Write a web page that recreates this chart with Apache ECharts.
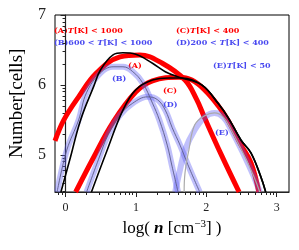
<!DOCTYPE html>
<html><head><meta charset="utf-8">
<script src="https://cdn.jsdelivr.net/npm/echarts@6/dist/echarts.min.js"></script>
<style>html,body{margin:0;padding:0;background:#fff}#c{width:299px;height:250px}</style>
</head><body><div id="c"></div>
<script>
// x = log(n [cm^-3]), y = log(Number[cells])
var fitA = [[-0.15,5.20],[-0.024,5.50],[0.186,5.83],[0.438,6.17],[0.773,6.40],[1.053,6.43],[1.375,6.31],[1.697,6.07],[1.864,5.79],[1.976,5.53],[2.214,5.00],[2.466,4.47]];
var fitC = [[0.144,4.47],[0.396,4.96],[0.676,5.47],[0.997,5.90],[1.235,6.06],[1.613,6.11],[1.794,6.07],[1.976,5.93],[2.172,5.70],[2.312,5.49],[2.494,5.14],[2.634,4.89],[2.746,4.47]];
var histA = [[-0.066,4.47],[0.06,4.93],[0.214,5.50],[0.40,5.98],[0.494,6.21],[0.675,6.43],[0.815,6.46],[0.997,6.44],[1.235,6.31],[1.417,6.19],[1.613,6.11],[1.934,6.00],[2.172,5.73],[2.312,5.53],[2.494,5.21],[2.634,5.03],[2.774,4.69],[2.844,4.47]];
var histC = [[0.368,4.47],[0.592,5.07],[0.815,5.64],[0.997,5.93],[1.235,6.07],[1.473,6.10],[1.654,6.10],[1.934,6.00],[2.172,5.73],[2.312,5.53],[2.494,5.21],[2.634,5.03],[2.774,4.69],[2.844,4.47]];
var curveB = [[-0.12,4.47],[0.018,5.07],[0.186,5.50],[0.298,5.89],[0.494,6.17],[0.675,6.26],[0.815,6.26],[0.955,6.19],[1.095,6.03],[1.235,5.74],[1.333,5.50],[1.445,5.14],[1.515,4.83],[1.599,4.47]];
var curveD = [[0.299,4.47],[0.466,4.93],[0.606,5.29],[0.773,5.57],[0.955,5.74],[1.165,5.83],[1.305,5.79],[1.417,5.64],[1.515,5.39],[1.627,5.14],[1.738,4.86],[1.906,4.47]];
var curveE = [[1.557,4.47],[1.627,4.79],[1.697,5.07],[1.836,5.36],[1.976,5.54],[2.116,5.60],[2.242,5.54],[2.354,5.36],[2.536,5.00],[2.676,4.69],[2.76,4.47]];
var histE = [[1.685,4.47],[1.697,4.74],[1.752,5.07],[1.836,5.43],[1.976,5.56],[2.116,5.60],[2.242,5.54],[2.354,5.36],[2.536,5.00],[2.676,4.69],[2.76,4.47]];
var xTickLabels = [0,1,2,3];
var yTickLabels = [5,6,7];
var minorMult = [2,3,4,5,6,7,8,9];
var xMinor = [], yMinor = [];
[-1,0,1,2,3].forEach(function(d){minorMult.forEach(function(k){var v=d+Math.log10(k); if(v>-0.15&&v<3.175) xMinor.push(v);});});
[4,5,6].forEach(function(d){minorMult.forEach(function(k){var v=d+Math.log10(k); if(v>4.47&&v<7) yMinor.push(v);});});

var RED='#ff0000', BLUE='#4848f0';
var serif='"DejaVu Serif", serif';
var txt = function(l,t,str,col){
  return {type:'text', left:l, top:t, style:{text:str, fill:col, font:'bold 8px '+serif,
    rich:{n:{fontFamily:serif,fontWeight:'bold',fontSize:8,fill:col},
          i:{fontFamily:serif,fontWeight:'bold',fontStyle:'italic',fontSize:8,fill:col}}}};
};
function line(data,color,width,z,opacity){
  return {type:'line',data:data,smooth:0.4,showSymbol:false,z:z,silent:true,
    lineStyle:{color:color,width:width,opacity:opacity==null?1:opacity}};
}
var chart = echarts.init(document.getElementById('c'),null,{renderer:'canvas'});
chart.setOption({
  animation:false,
  grid:{left:51,right:10,top:15,bottom:58,show:true,borderColor:'#000',borderWidth:1,backgroundColor:'transparent'},
  xAxis:[{type:'value',min:-0.15,max:3.175,
    name:'log( {b|n} [cm{s|−3}] )',nameLocation:'middle',nameGap:27,
    nameTextStyle:{fontFamily:'"Liberation Serif", serif',fontSize:17,color:'#000',
      rich:{b:{fontFamily:'"Liberation Serif", serif',fontSize:17,fontWeight:'bold',fontStyle:'italic'},
            s:{fontFamily:'"Liberation Serif", serif',fontSize:11,verticalAlign:'top',padding:[0,0,8,0]}}},
    axisLine:{show:true,lineStyle:{color:'#222',width:1.2}},
    axisTick:{show:true,inside:false,length:5,customValues:xTickLabels,lineStyle:{color:'#222',width:1}},
    axisLabel:{customValues:xTickLabels,margin:10,fontFamily:'"Liberation Serif", serif',fontSize:12,color:'#222'},
    splitLine:{show:false}},
   {type:'value',min:-0.15,max:3.175,position:'bottom',
    axisLine:{show:false},axisLabel:{show:false},splitLine:{show:false},
    axisTick:{show:true,length:3,customValues:xMinor,lineStyle:{color:'#222',width:1}}}],
  yAxis:[{type:'value',min:4.47,max:7,
    name:'Number[cells]',nameLocation:'middle',nameGap:28,
    nameTextStyle:{fontFamily:'"Liberation Serif", serif',fontSize:19,color:'#000'},
    axisLine:{show:true,lineStyle:{color:'#222',width:1.2}},
    axisTick:{show:true,length:5,customValues:yTickLabels,lineStyle:{color:'#222',width:1}},
    axisLabel:{customValues:yTickLabels,margin:9,fontFamily:'"Liberation Serif", serif',fontSize:16,color:'#222'},
    splitLine:{show:false}},
   {type:'value',min:4.47,max:7,position:'left',
    axisLine:{show:false},axisLabel:{show:false},splitLine:{show:false},
    axisTick:{show:true,length:3,customValues:yMinor,lineStyle:{color:'#222',width:1}}}],
  graphic:[
    txt(54,27,'{n|(A)}{i|T}{n|[K] < 1000}',RED),
    txt(54,39,'{n|(B)600 < }{i|T}{n|[K] < 1000}',BLUE),
    txt(176,27,'{n|(C)}{i|T}{n|[K] < 400}',RED),
    txt(176,39,'{n|(D)200 < }{i|T}{n|[K] < 400}',BLUE),
    txt(213,62,'{n|(E)}{i|T}{n|[K] < 50}',BLUE),
    txt(128,62,'{n|(A)}',RED),
    txt(112,75,'{n|(B)}',BLUE),
    txt(163,87,'{n|(C)}',RED),
    txt(163,101,'{n|(D)}',BLUE),
    txt(215,129,'{n|(E)}',BLUE)
  ],
  series:[
    line(fitA,RED,5,2),
    line(fitC,RED,5,2),
    line(curveB,'#5a5af5',6,3,0.38),
    line(curveD,'#5a5af5',6,3,0.38),
    line(curveE,'#5a5af5',6,3,0.38),
    line(curveB,'#5c5c88',1,4,0.9),
    line(curveD,'#5c5c88',1,4,0.9),
    line(histE,'#aaaaaa',1.2,4),
    line(histA,'#000',1.6,5),
    line(histC,'#000',1.6,5)
  ]
});
</script></body></html>
